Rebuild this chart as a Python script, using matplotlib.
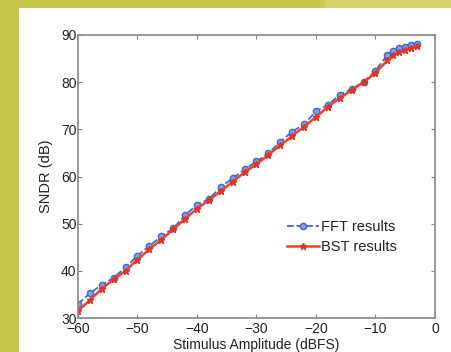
import matplotlib
matplotlib.use("Agg")
import matplotlib.pyplot as plt
from matplotlib.patches import Rectangle

plt.rcParams["font.family"] = ["Liberation Sans", "DejaVu Sans"]

amp = [-60, -58, -56, -54, -52, -50, -48, -46, -44, -42, -40, -38, -36, -34, -32,
       -30, -28, -26, -24, -22, -20, -18, -16, -14, -12, -10, -8, -7, -6, -5, -4, -3]
fft = [33.0, 35.2, 37.1, 38.5, 40.8, 43.2, 45.3, 47.3, 49.0, 51.8, 54.0, 55.2, 57.8, 59.6, 61.5,
       63.2, 64.9, 67.4, 69.5, 71.1, 73.8, 75.2, 77.3, 78.5, 80.1, 82.4, 85.8, 86.7, 87.2, 87.5, 87.8, 88.0]
bst = [31.5, 33.8, 36.2, 38.2, 40.0, 42.4, 44.6, 46.6, 48.8, 51.0, 53.2, 55.0, 56.9, 58.9, 60.9,
       62.6, 64.6, 66.6, 68.6, 70.6, 72.6, 74.8, 76.6, 78.3, 80.0, 82.0, 84.6, 85.8, 86.4, 86.8, 87.2, 87.6]

xticks = [-60, -50, -40, -30, -20, -10, 0]
yticks = [30, 40, 50, 60, 70, 80, 90]

W, H = 452, 352
fig = plt.figure(figsize=(W / 100, H / 100), dpi=100)
fig.patch.set_facecolor("#c9c84c")
fig.patches.append(Rectangle((325 / W, (H - 8) / H), 1, 1, transform=fig.transFigure,
                             facecolor="#d3d368", edgecolor="none", zorder=-2))
fig.patches.append(Rectangle((19 / W, 0), 1, (H - 8) / H, transform=fig.transFigure,
                             facecolor="white", edgecolor="none", zorder=-1))

ax = fig.add_axes([78 / W, (H - 318) / H, (435 - 78) / W, (318 - 35) / H])
ax.plot(amp, fft, linestyle="--", color="#4a62c8", marker="o", markersize=4.5,
        markerfacecolor="#8a9ce0", markeredgecolor="#4a62c8", linewidth=1.3, label="FFT results")
ax.plot(amp, bst, linestyle="-", color="#f0402a", marker="*", markersize=5,
        markeredgecolor="#e03020", linewidth=1.8, label="BST results")

ax.set_xlim(-60, 0)
ax.set_ylim(30, 90)
ax.set_xticks(xticks)
ax.set_yticks(yticks)
ax.tick_params(direction="in", length=3, color="#808080", labelsize=10, labelcolor="#222222",
               top=True, right=True)
ax.tick_params(axis="x", pad=3)
ax.tick_params(axis="y", pad=1)
for s in ax.spines.values():
    s.set_color("#909090")
    s.set_linewidth(1.3)
ax.set_xlabel("Stimulus Amplitude (dBFS)", fontsize=10, color="#222222", labelpad=1)
ax.set_ylabel("SNDR (dB)", fontsize=10.5, color="#222222", labelpad=6)
leg = ax.legend(loc="center left", bbox_to_anchor=(0.549, 0.286), frameon=False, fontsize=10.5,
                handlelength=2.2, labelspacing=0.37, handletextpad=0.15, borderpad=0.4)
for t in leg.get_texts():
    t.set_color("#222222")

fig.savefig("out.png", dpi=100, facecolor=fig.get_facecolor())
